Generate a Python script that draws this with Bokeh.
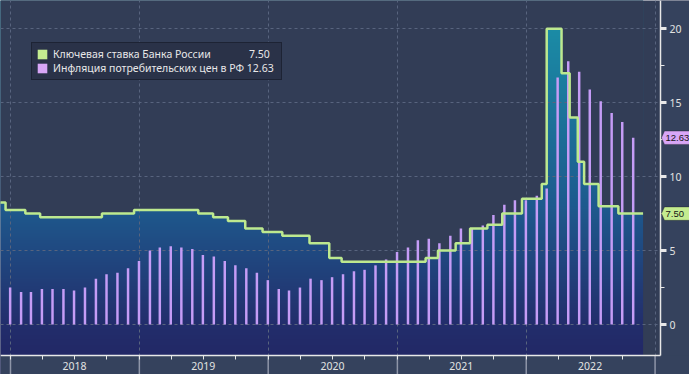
import numpy as np
import pandas as pd
from bokeh.plotting import figure
from bokeh.models import (FixedTicker, DatetimeTickFormatter, Legend, LegendItem, Label,
                          PolyAnnotation, BoxAnnotation, Range1d)
from bokeh.embed import file_html
from bokeh.resources import INLINE

# ---------------- data ----------------
rate_label = "Ключевая ставка Банка России"
infl_label = "Инфляция потребительских цен в РФ"

rate_dates = ["2017-10-30", "2017-12-18", "2018-02-12", "2018-03-26", "2018-09-17", "2018-12-17",
              "2019-06-17", "2019-07-29", "2019-09-09", "2019-10-28", "2019-12-16", "2020-02-10", "2020-04-27",
              "2020-06-22", "2020-07-27", "2021-03-22", "2021-04-26", "2021-06-15", "2021-07-26", "2021-09-13",
              "2021-10-25", "2021-12-20", "2022-02-14", "2022-02-28", "2022-04-11", "2022-05-04", "2022-05-27",
              "2022-06-14", "2022-07-25", "2022-09-19", "2022-11-28"]
rate_values = [8.25, 7.75, 7.50, 7.25, 7.50, 7.75,
               7.50, 7.25, 7.00, 6.50, 6.25, 6.00, 5.50,
               4.50, 4.25, 4.50, 5.00, 5.50, 6.50, 6.75,
               7.50, 8.50, 9.50, 20.00, 17.00, 14.00, 11.00,
               9.50, 8.00, 7.50, 7.50]

infl_first_month = "2017-11"
infl_values = [2.5, 2.5,
               2.2, 2.2, 2.4, 2.4, 2.4, 2.3, 2.5, 3.1, 3.4, 3.5, 3.8, 4.3,
               5.0, 5.2, 5.3, 5.2, 5.1, 4.7, 4.6, 4.3, 4.0, 3.8, 3.5, 3.0,
               2.4, 2.3, 2.5, 3.1, 3.0, 3.2, 3.4, 3.6, 3.7, 4.0, 4.4, 4.9,
               5.2, 5.7, 5.8, 5.5, 6.0, 6.5, 6.5, 6.7, 7.4, 8.1, 8.4, 8.4,
               8.7, 9.2, 16.7, 17.8, 17.1, 15.9, 15.1, 14.3, 13.7, 12.63]

years = [2018, 2019, 2020, 2021, 2022]
y_ticks = [0, 5, 10, 15, 20]
y_minor = [2.5, 7.5, 12.5, 17.5]

# ---------------- styles / layout ----------------
BG = "#323d56"
STRIP = "#35425d"
GREEN = "#bde98f"
VIOLET = "#c59cf6"
TAG_VIOLET = "#d8a6f7"
TAG_GREEN = "#c4ec90"
GRID = "#58647e"
AXIS = "#e8e8e8"
SEP = "#8e95a8"
FONT = "Noto Sans"

W, H = 689, 374
BASE = pd.Timestamp("2018-01-01")
X0_PX, PX_PER_DAY = 10.0, 0.353        # pixel of 1 Jan 2018, pixels per day
ZERO_PX, PX_PER_UNIT = 324.0, 14.785   # pixel of value 0, pixels per unit
AXIS_X_PX, AXIS_Y_PX = 660, 355        # right axis line, bottom axis line


def px_to_date(px):
    return BASE + pd.Timedelta(days=(px - X0_PX) / PX_PER_DAY)


def py_to_val(py):
    return (ZERO_PX - py) / PX_PER_UNIT


def ms(t):
    return pd.Timestamp(t).value / 1e6


rd = pd.to_datetime(rate_dates)
infl_dates = pd.DatetimeIndex([(pd.Period(infl_first_month, freq="M") + i).to_timestamp(how="end").normalize()
                               for i in range(len(infl_values))])

x_start, x_end = px_to_date(0), px_to_date(W)
y_lo, y_hi = py_to_val(H), py_to_val(0)
axis_x = ms(px_to_date(AXIS_X_PX))
axis_y = py_to_val(AXIS_Y_PX)

p = figure(width=W, height=H, x_axis_type="datetime", y_axis_location="right",
           output_backend="svg", toolbar_location=None,
           x_range=Range1d(x_start, x_end), y_range=Range1d(y_lo, y_hi),
           min_border=0)
p.background_fill_color = BG
p.border_fill_color = STRIP
p.outline_line_color = None

# ---------------- gradient fill under key rate ----------------
N = 400
img_lo, img_hi = y_lo, y_hi
vs = img_lo + (np.arange(N) + 0.5) * (img_hi - img_lo) / N
stops_v = [-3.5, -2.1, 0.0, 8.0, 20.0, 22.0]
stops_c = [(34, 40, 102), (34, 40, 102), (35, 46, 108), (30, 90, 142), (27, 140, 166), (27, 147, 170)]
img = np.empty((N, 1), dtype=np.uint32)
view = img.view(dtype=np.uint8).reshape((N, 1, 4))
for k in range(3):
    view[:, 0, k] = np.interp(vs, stops_v, [c[k] for c in stops_c]).astype(np.uint8)
view[:, 0, 3] = 255
p.image_rgba(image=[img], x=ms(rd[0]), y=img_lo, dw=ms(rd[-1]) - ms(rd[0]), dh=img_hi - img_lo, level="image")

# mask above the step line
mx, my = [], []
for i in range(len(rd) - 1):
    mx += [rd[i], rd[i + 1]]
    my += [rate_values[i], rate_values[i]]
mx += [rd[-1], rd[-1], rd[0]]
my += [rate_values[-1], 40, 40]
p.patch(mx, my, fill_color=BG, line_color=None, level="image")

# ---------------- grids ----------------
year_starts = [pd.Timestamp(f"{y}-01-01") for y in years + [years[-1] + 1]]
p.xgrid.ticker = FixedTicker(ticks=[ms(t) for t in year_starts])
p.ygrid.ticker = FixedTicker(ticks=y_ticks)
for g in (p.xgrid, p.ygrid):
    g.grid_line_color = GRID
    g.grid_line_dash = "3 3"
    g.grid_line_width = 1

# axis strips (right and bottom)
p.add_layout(BoxAnnotation(left=axis_x, fill_color=STRIP, fill_alpha=1, line_color=None, level="underlay"))
p.add_layout(BoxAnnotation(top=axis_y, fill_color=STRIP, fill_alpha=1, line_color=None, level="underlay"))

# ---------------- bars and line ----------------
bar_w = pd.Timedelta(days=7).total_seconds() * 1000
p.vbar(x=infl_dates, top=infl_values, bottom=0, width=bar_w, fill_color=VIOLET, line_color=None)
p.step(rd, rate_values, mode="after", line_color=GREEN, line_width=2.5)

# year separators in the bottom strip
p.segment(x0=year_starts, y0=[axis_y] * len(year_starts), x1=year_starts, y1=[y_lo] * len(year_starts),
          line_color=SEP, line_width=1.5)

# ---------------- axes ----------------
ya = p.yaxis[0]
ya.fixed_location = axis_x
ya.bounds = (axis_y, y_hi)
ya.ticker = FixedTicker(ticks=y_ticks, minor_ticks=y_minor)
ya.axis_line_color = AXIS
ya.axis_line_width = 1.5
ya.major_tick_line_color = AXIS
ya.major_tick_line_width = 3
ya.major_tick_out = 6
ya.major_tick_in = 0
ya.minor_tick_line_color = AXIS
ya.minor_tick_out = 4
ya.minor_tick_in = 0
ya.major_label_standoff = 3
ya.major_label_text_font = FONT
ya.major_label_text_font_size = "10.5px"
ya.major_label_text_color = "#e2e2e2"

xa = p.xaxis[0]
xa.fixed_location = axis_y
xa.bounds = (ms(x_start), axis_x)
mid_year = [ms(pd.Timestamp(f"{y}-07-01")) for y in years]
quarters = [ms(pd.Timestamp(f"{y}-{m:02d}-01")) for y in years for m in (1, 4, 10)]
xa.ticker = FixedTicker(ticks=mid_year, minor_ticks=quarters)
xa.formatter = DatetimeTickFormatter(years="%Y", months="%Y", days="%Y", hours="%Y", hourmin="%Y",
                                     minutes="%Y", minsec="%Y", seconds="%Y", milliseconds="%Y",
                                     microseconds="%Y")
xa.axis_line_color = AXIS
xa.axis_line_width = 1.5
xa.major_tick_line_color = AXIS
xa.major_tick_out = 4
xa.major_tick_in = 0
xa.minor_tick_line_color = AXIS
xa.minor_tick_out = 4
xa.minor_tick_in = 0
xa.major_label_standoff = 2
xa.major_label_text_font = FONT
xa.major_label_text_font_size = "10.5px"
xa.major_label_text_color = "#e2e2e2"

# ---------------- value tags on the right ----------------
def tag(v, color):
    h = 0.45
    p.add_layout(PolyAnnotation(xs=[AXIS_X_PX + 1, AXIS_X_PX + 4, W + 20, W + 20, AXIS_X_PX + 4],
                                ys=[v, v + h, v + h, v - h, v - h],
                                xs_units="screen", ys_units="data",
                                fill_color=color, fill_alpha=1, line_color="#101010", line_width=1))
    p.add_layout(Label(x=AXIS_X_PX + 5, y=v, x_units="screen", y_units="data", text=f"{v:.2f}",
                       text_baseline="middle", text_font="Liberation Sans", text_font_size="9.5px",
                       text_color="#151515"))

tag(infl_values[-1], TAG_VIOLET)
tag(rate_values[-1], TAG_GREEN)

# ---------------- legend ----------------
r_sw = p.quad(left=[x_start], right=[x_start], top=[0], bottom=[0], fill_color=TAG_GREEN, line_color=None)
i_sw = p.quad(left=[x_start], right=[x_start], top=[0], bottom=[0], fill_color=TAG_VIOLET, line_color=None)
legend = Legend(items=[LegendItem(label=rate_label + "\u00a0" * 14 + f"{rate_values[-1]:.2f}", renderers=[r_sw]),
                       LegendItem(label=infl_label + " " + f"{infl_values[-1]:.2f}", renderers=[i_sw])],
                location=(31, H - 80), orientation="vertical",
                background_fill_color="#2a3248", background_fill_alpha=1,
                border_line_color="#10141f", border_line_width=1,
                label_text_font=FONT, label_text_font_size="10.5px", label_text_color="#e8e8e8",
                glyph_width=12, glyph_height=12, label_height=12, label_width=224,
                label_standoff=5, spacing=0, padding=4, margin=0)
p.add_layout(legend, "center")

open("out.html", "w").write(file_html(p, INLINE))
